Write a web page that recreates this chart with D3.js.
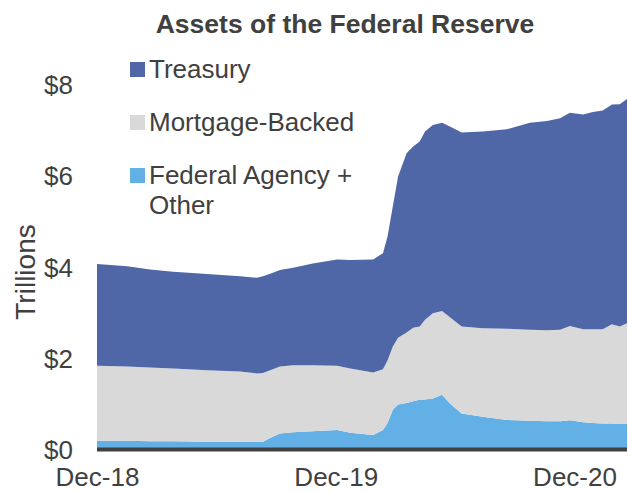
<!DOCTYPE html>
<html>
<head>
<meta charset="utf-8">
<script src="https://cdn.jsdelivr.net/npm/d3@7"></script>
<style>
  html, body { margin: 0; padding: 0; background: #ffffff; }
  svg { display: block; font-family: "Liberation Sans", Arial, sans-serif; }
</style>
</head>
<body>
<svg id="chart" width="628" height="491"></svg>
<script>
// ---- data (trillions of dollars) ----
const dates = ["2018-12-05","2019-01-20","2019-02-24","2019-03-31","2019-05-22","2019-07-11","2019-08-06","2019-08-15","2019-08-26","2019-09-10","2019-09-30","2019-10-30","2019-12-06","2019-12-26","2020-01-30","2020-02-14","2020-02-21","2020-02-29","2020-03-08","2020-03-21","2020-03-31","2020-04-10","2020-04-18","2020-04-30","2020-05-14","2020-05-26","2020-06-13","2020-07-15","2020-08-21","2020-09-25","2020-10-21","2020-11-10","2020-11-25","2020-12-15","2020-12-30","2021-01-14","2021-01-28","2021-02-09","2021-02-20"];
const treasury = [2.23,2.20,2.15,2.12,2.11,2.09,2.10,2.12,2.12,2.12,2.14,2.23,2.33,2.38,2.48,2.55,2.72,3.08,3.54,3.93,3.98,4.06,4.13,4.13,4.13,4.19,4.26,4.32,4.38,4.54,4.59,4.64,4.68,4.71,4.77,4.80,4.82,4.88,4.92];
const mortgageBacked = [1.65,1.63,1.62,1.60,1.57,1.54,1.50,1.51,1.49,1.47,1.47,1.45,1.41,1.41,1.37,1.33,1.38,1.39,1.46,1.55,1.61,1.61,1.75,1.87,1.84,1.89,1.91,1.94,2.00,2.00,2.00,2.01,2.07,2.04,2.06,2.07,2.18,2.14,2.21];
const agencyOther = [0.19,0.19,0.18,0.18,0.17,0.17,0.17,0.17,0.25,0.35,0.38,0.40,0.43,0.37,0.32,0.43,0.58,0.87,0.99,1.02,1.06,1.09,1.10,1.12,1.20,1.01,0.79,0.72,0.65,0.63,0.62,0.62,0.64,0.60,0.58,0.57,0.57,0.56,0.56];

const seriesNames = ["Federal Agency + Other", "Mortgage-Backed", "Treasury"];
const seriesColors = ["#63b0e7", "#d9d9d9", "#4f67a6"];
const legendOrder = ["Treasury", "Mortgage-Backed", "Federal Agency + Other"];
const xTickDates = ["2018-12-05", "2019-12-04", "2020-12-02"];
const yTicks = [0, 2, 4, 6, 8];
const titleText = "Assets of the Federal Reserve";
const yAxisTitle = "Trillions";

// ---- build table ----
const parse = d3.timeParse("%Y-%m-%d");
const table = dates.map((d, i) => ({
  date: parse(d),
  "Federal Agency + Other": agencyOther[i],
  "Mortgage-Backed": mortgageBacked[i],
  "Treasury": treasury[i]
}));

const svg = d3.select("#chart");
const textColor = "#404040";

const x = d3.scaleTime()
  .domain([parse(dates[0]), parse(dates[dates.length - 1])])
  .range([97, 627]);
const y = d3.scaleLinear().domain([0, 8]).range([449.5, 85]);

const stack = d3.stack().keys(seriesNames);
const layers = stack(table);
const color = d3.scaleOrdinal().domain(seriesNames).range(seriesColors);

const area = d3.area()
  .x(d => x(d.data.date))
  .y0(d => y(d[0]))
  .y1(d => y(d[1]))
  .curve(d3.curveLinear);

svg.append("g").selectAll("path")
  .data(layers)
  .join("path")
  .attr("d", area)
  .attr("fill", d => color(d.key));

// baseline axis line
svg.append("line")
  .attr("x1", x.range()[0]).attr("x2", x.range()[1])
  .attr("y1", y(0)).attr("y2", y(0))
  .attr("stroke", "#404040").attr("stroke-width", 4);

// y axis
const yAxis = d3.axisLeft(y).tickValues(yTicks).tickSize(0).tickPadding(0)
  .tickFormat(d => "$" + d);
const gy = svg.append("g").attr("transform", "translate(73,0)").call(yAxis);
gy.select(".domain").remove();
gy.selectAll("text")
  .attr("font-size", 26).attr("fill", textColor)
  .attr("font-family", "'Liberation Sans', Arial, sans-serif")
  .attr("dy", "0.34em");

// x axis
const xAxis = d3.axisBottom(x).tickValues(xTickDates.map(parse)).tickSize(0).tickPadding(0)
  .tickFormat(d3.timeFormat("%b-%y"));
const gx = svg.append("g").attr("transform", "translate(0," + y(0) + ")").call(xAxis);
gx.select(".domain").remove();
gx.selectAll("text")
  .attr("font-size", 26).attr("fill", textColor)
  .attr("font-family", "'Liberation Sans', Arial, sans-serif")
  .attr("y", 0).attr("dy", 36.5);

// y axis title
svg.append("text")
  .attr("transform", "translate(35,272) rotate(-90)")
  .attr("text-anchor", "middle")
  .attr("font-size", 28).attr("fill", textColor)
  .text(yAxisTitle);

// title
svg.append("text")
  .attr("x", 345).attr("y", 33)
  .attr("text-anchor", "middle")
  .attr("font-size", 26.5).attr("font-weight", "bold").attr("fill", textColor)
  .text(titleText);

// legend
const legendItems = [
  { name: legendOrder[0], lines: ["Treasury"], top: 62 },
  { name: legendOrder[1], lines: ["Mortgage-Backed"], top: 115 },
  { name: legendOrder[2], lines: ["Federal Agency +", "Other"], top: 168 }
];
const lg = svg.append("g");
legendItems.forEach(item => {
  lg.append("rect")
    .attr("x", 130).attr("y", item.top).attr("width", 15).attr("height", 15)
    .attr("fill", color(item.name));
  const t = lg.append("text")
    .attr("x", 149).attr("y", item.top + 16)
    .attr("font-size", 26).attr("fill", textColor);
  item.lines.forEach((ln, i) => {
    t.append("tspan").attr("x", 149).attr("dy", i === 0 ? 0 : 30).text(ln);
  });
});
</script>
</body>
</html>
